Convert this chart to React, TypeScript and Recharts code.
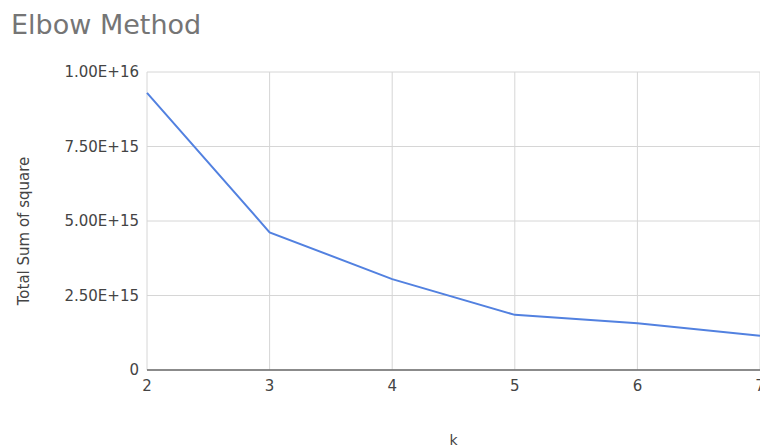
import { LineChart, Line, XAxis, YAxis, CartesianGrid } from "recharts";

const kValues = [2, 3, 4, 5, 6, 7];
const totalSumOfSquare = [9.3e15, 4.62e15, 3.05e15, 1.85e15, 1.57e15, 1.15e15];
const yTicks = [0, 2.5e15, 5e15, 7.5e15, 1e16];

const data = kValues.map((k, i) => ({ k, sse: totalSumOfSquare[i] }));

const fmtY = (v: number) => (v === 0 ? "0" : v.toExponential(2).toUpperCase());

export default function App() {
  return (
    <div
      style={{
        position: "absolute",
        left: 0,
        top: 0,
        width: 760,
        height: 448,
        overflow: "hidden",
        background: "#fff",
        fontFamily: "'DejaVu Sans', sans-serif",
      }}
    >
      <div
        style={{
          position: "absolute",
          left: 11,
          top: 10,
          fontSize: 27,
          color: "#757575",
          lineHeight: "30px",
        }}
      >
        Elbow Method
      </div>
      <LineChart
        width={770}
        height={448}
        data={data}
        margin={{ top: 72, right: 10, bottom: 0, left: 0 }}
      >
        <CartesianGrid stroke="#d6d6d6" strokeWidth={1} />
        <XAxis
          dataKey="k"
          type="number"
          domain={[2, 7]}
          ticks={kValues}
          height={78}
          tickLine={false}
          tickMargin={4}
          axisLine={{ stroke: "#6b6b6b", strokeWidth: 1.5 }}
          tick={{ fill: "#444", fontSize: 15 }}
          label={{
            value: "k",
            position: "insideBottom",
            offset: 3,
            fill: "#444",
            fontSize: 14,
          }}
        />
        <YAxis
          domain={[0, 1e16]}
          ticks={yTicks}
          width={147}
          tickLine={false}
          axisLine={false}
          tickFormatter={fmtY}
          tick={{ fill: "#444", fontSize: 15 }}
          label={{
            value: "Total Sum of square",
            angle: -90,
            position: "insideLeft",
            offset: 24,
            fill: "#444",
            fontSize: 15,
            dy: 10,
            style: { textAnchor: "middle" },
          }}
        />
        <Line
          type="linear"
          dataKey="sse"
          stroke="#5281e0"
          strokeWidth={2}
          dot={false}
          isAnimationActive={false}
        />
      </LineChart>
    </div>
  );
}
